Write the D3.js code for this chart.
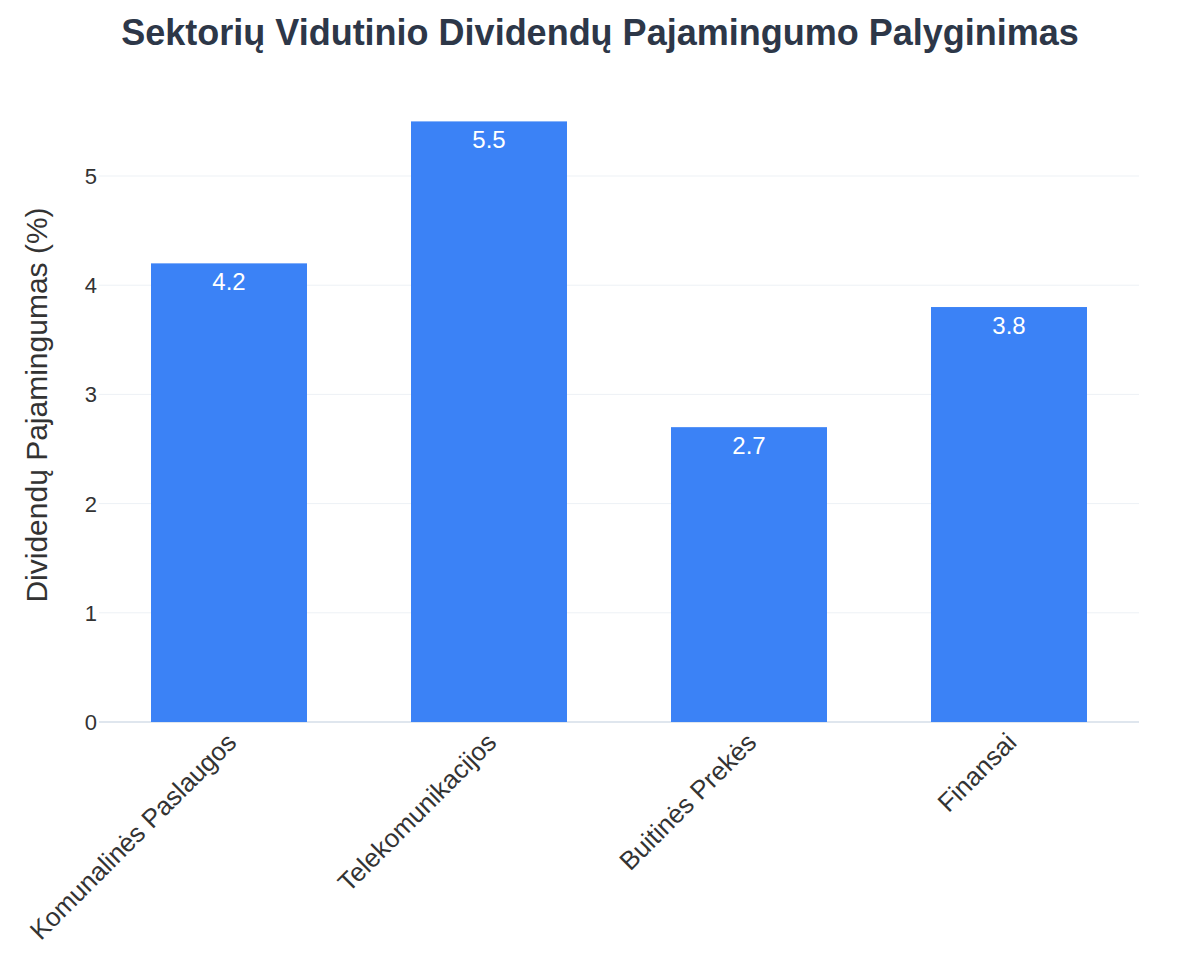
<!DOCTYPE html>
<html><head><meta charset="utf-8">
<script src="https://cdn.jsdelivr.net/npm/d3@7"></script>
<style>body{margin:0;background:#fff}</style>
</head><body>
<svg id="chart" width="1200" height="975"></svg>
<script>
var sectors = ["Komunalinės Paslaugos", "Telekomunikacijos", "Buitinės Prekės", "Finansai"];
var yields = [4.2, 5.5, 2.7, 3.8];
var yTicks = [0, 1, 2, 3, 4, 5];

var svg = d3.select("#chart");
var font = "'Liberation Sans', Arial, sans-serif";

var x = d3.scaleBand().domain(sectors).range([99, 1139]).paddingInner(0.4).paddingOuter(0.2);
var y = d3.scaleLinear().domain([0, 5]).range([722, 176]);

// grid
svg.selectAll(".grid").data(yTicks).enter().append("line")
  .attr("x1", 99).attr("x2", 1139)
  .attr("y1", function(d) { return y(d); }).attr("y2", function(d) { return y(d); })
  .style("stroke", function(d) { return d === 0 ? "#dfe6ee" : "#edf1f5"; })
  .style("stroke-width", function(d) { return d === 0 ? 2 : 1; });

svg.selectAll(".bar").data(yields).enter().append("rect")
  .attr("x", function(d, i) { return x(sectors[i]); })
  .attr("width", x.bandwidth())
  .attr("y", function(d) { return y(d); })
  .attr("height", function(d) { return y(0) - y(d); })
  .style("fill", "#3b82f6");

svg.selectAll(".val").data(yields).enter().append("text")
  .attr("x", function(d, i) { return x(sectors[i]) + x.bandwidth() / 2; })
  .attr("y", function(d) { return y(d) + 27; })
  .attr("text-anchor", "middle")
  .style("font-family", font).style("font-size", "24px").style("fill", "#fff")
  .text(function(d) { return d.toFixed(1); });

// y ticks
svg.selectAll(".yt").data(yTicks).enter().append("text")
  .attr("x", 97).attr("y", function(d) { return y(d) + 8; })
  .attr("text-anchor", "end")
  .style("font-family", font).style("font-size", "22px").style("fill", "#333")
  .text(function(d) { return d; });

// x labels
svg.selectAll(".xt").data(sectors).enter().append("text")
  .attr("transform", function(d) { return "translate(" + (x(d) + x.bandwidth() / 2 + 9) + ",744) rotate(-45)"; })
  .attr("text-anchor", "end")
  .style("font-family", font).style("font-size", "26px").style("fill", "#333")
  .text(function(d) { return d; });

svg.append("text")
  .attr("transform", "translate(47,405) rotate(-90)")
  .attr("text-anchor", "middle")
  .style("font-family", font).style("font-size", "30px").style("fill", "#333")
  .text("Dividendų Pajamingumas (%)");

svg.append("text")
  .attr("x", 600).attr("y", 45)
  .attr("text-anchor", "middle")
  .style("font-family", font).style("font-size", "36px").style("font-weight", "bold").style("fill", "#2d3748")
  .text("Sektorių Vidutinio Dividendų Pajamingumo Palyginimas");
</script>
</body></html>
